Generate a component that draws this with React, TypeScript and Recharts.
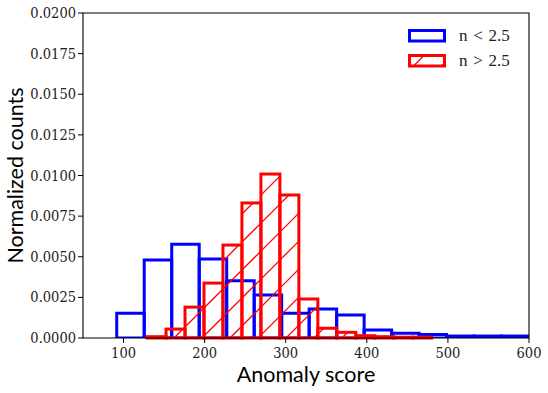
import { ComposedChart, Label, ReferenceArea, XAxis, YAxis } from "recharts";

// histogram bin edges and normalized counts
const blueEdges = [91.6, 125.5, 159.4, 193.3, 227.2, 261.1, 295.0, 328.9, 362.8, 396.7, 430.6, 464.5, 498.4, 532.3, 566.2, 600.1];
const blueCounts = [0.00152, 0.0048, 0.00577, 0.00486, 0.00353, 0.00265, 0.00152, 0.00178, 0.00142, 0.00049, 0.0003, 0.00022, 0.00012, 0.00012, 0.00012];

const redEdges = [129.0, 152.4, 175.8, 199.2, 222.6, 246.0, 269.4, 292.8, 316.2, 339.6, 363.0, 386.4, 409.8, 433.2, 456.6, 480.0];
const redCounts = [0.00008, 0.00055, 0.0019, 0.00338, 0.00572, 0.00831, 0.01009, 0.0088, 0.0024, 0.0006, 0.00035, 0.00014, 0.00008, 0.00005, 0.00005];

const xTicks = [100, 200, 300, 400, 500, 600];
const yTicks = [0, 0.0025, 0.005, 0.0075, 0.01, 0.0125, 0.015, 0.0175, 0.02];

const legendItems = [
  { label: "n < 2.5", color: "#0000ff", hatch: false },
  { label: "n > 2.5", color: "#ff0000", hatch: true },
];

type Bin = { x0: number; x1: number; count: number };

const toBins = (edges: number[], counts: number[]): Bin[] =>
  counts.map((count, i) => ({ x0: edges[i], x1: edges[i + 1], count }));

const blueBins = toBins(blueEdges, blueCounts);
const redBins = toBins(redEdges, redCounts);

const tickFont = "DejaVu Serif";
const legendFont = "Liberation Serif";
const labelFont = "Lato";

// '/' hatch segments clipped to a rectangle (screen px), lines x + y = k * step + off
function hatchSegments(x: number, y: number, w: number, h: number, step: number, off: number) {
  const segs: Array<[number, number, number, number]> = [];
  const x0 = x, x1 = x + w, y0 = y, y1 = y + h;
  const kMin = Math.ceil((x0 + y0 - off) / step);
  const kMax = Math.floor((x1 + y1 - off) / step);
  for (let k = kMin; k <= kMax; k++) {
    const c = k * step + off;
    const lo = Math.max(x0, c - y1);
    const hi = Math.min(x1, c - y0);
    if (hi - lo > 0.5) segs.push([lo, c - lo, hi, c - hi]);
  }
  return segs;
}

const HatchedBar = (props: any) => {
  const { x, y, width, height } = props;
  if (!(width > 0) || !(height > 0)) return null;
  return (
    <g>
      {hatchSegments(x, y, width, height, 28, 8).map((s, i) => (
        <line key={i} x1={s[0]} y1={s[1]} x2={s[2]} y2={s[3]} stroke="#ff0000" strokeWidth={1.3} />
      ))}
      <rect x={x} y={y} width={width} height={height} fill="none" stroke="#ff0000" strokeWidth={3} />
    </g>
  );
};

const XTick = (props: any) => {
  const { x, y, payload } = props;
  return (
    <text x={x} y={y + 11} textAnchor="middle" fontFamily={tickFont} fontStretch="condensed" fontSize={14.5} fill="#222">
      {payload.value}
    </text>
  );
};

const YTick = (props: any) => {
  const { x, y, payload } = props;
  return (
    <text x={x} y={y + 5} textAnchor="end" fontFamily={tickFont} fontStretch="condensed" fontSize={14.5} fill="#222">
      {Number(payload.value).toFixed(4)}
    </text>
  );
};

export default function App() {
  return (
    <div style={{ position: "absolute", left: 0, top: 0, width: 548, height: 393, background: "#fff" }}>
      <ComposedChart width={548} height={393} data={blueBins} margin={{ top: 13, right: 19, bottom: 0, left: 0 }}>
        <XAxis
          type="number"
          dataKey="x0"
          domain={[50, 600]}
          allowDataOverflow
          ticks={xTicks}
          height={55}
          tickSize={5}
          tickMargin={4}
          axisLine={false}
          tickLine={{ stroke: "#000" }}
          tick={(p: any) => <XTick {...p} />}
        >
          <Label
            content={() => (
              <text x={306} y={382} textAnchor="middle" fontFamily={labelFont} fontSize={21.5} fill="#000">
                Anomaly score
              </text>
            )}
          />
        </XAxis>
        <YAxis
          type="number"
          domain={[0, 0.02]}
          allowDataOverflow
          ticks={yTicks}
          width={83}
          tickSize={5}
          tickMargin={2}
          axisLine={false}
          tickLine={{ stroke: "#000" }}
          tick={(p: any) => <YTick {...p} />}
        >
          <Label
            content={() => (
              <text
                x={23}
                y={175.5}
                transform="rotate(-90 23 175.5)"
                textAnchor="middle"
                fontFamily={labelFont}
                fontSize={21.5}
                fill="#000"
              >
                Normalized counts
              </text>
            )}
          />
        </YAxis>
        {blueBins.map((b) => (
          <ReferenceArea
            key={`b${b.x0}`}
            x1={b.x0}
            x2={b.x1}
            y1={0}
            y2={b.count}
            fill="none"
            stroke="#0000ff"
            strokeWidth={3}
            ifOverflow="hidden"
          />
        ))}
        {redBins.map((b) => (
          <ReferenceArea
            key={`r${b.x0}`}
            x1={b.x0}
            x2={b.x1}
            y1={0}
            y2={b.count}
            ifOverflow="hidden"
            shape={(p: any) => <HatchedBar {...p} />}
          />
        ))}
        <ReferenceArea x1={50} x2={600} y1={0} y2={0.02} fill="none" stroke="#000" strokeWidth={1.1} ifOverflow="visible" />
      </ComposedChart>
      <div style={{ position: "absolute", left: 407, top: 23 }}>
        {legendItems.map((item) => (
          <div key={item.label} style={{ display: "flex", alignItems: "center", height: 25 }}>
            <svg width={40} height={16}>
              {item.hatch
                ? hatchSegments(2.5, 2.5, 35, 10.5, 28, 19.5).map((s, i) => (
                    <line key={i} x1={s[0]} y1={s[1]} x2={s[2]} y2={s[3]} stroke="#ff0000" strokeWidth={1.3} />
                  ))
                : null}
              <rect x={2.5} y={2.5} width={35} height={10.5} fill="none" stroke={item.color} strokeWidth={3} />
            </svg>
            <span style={{ marginLeft: 12, fontFamily: legendFont, fontSize: 17, color: "#222", whiteSpace: "pre" }}>
              {item.label.replace(/ /g, "\u2004")}
            </span>
          </div>
        ))}
      </div>
    </div>
  );
}
